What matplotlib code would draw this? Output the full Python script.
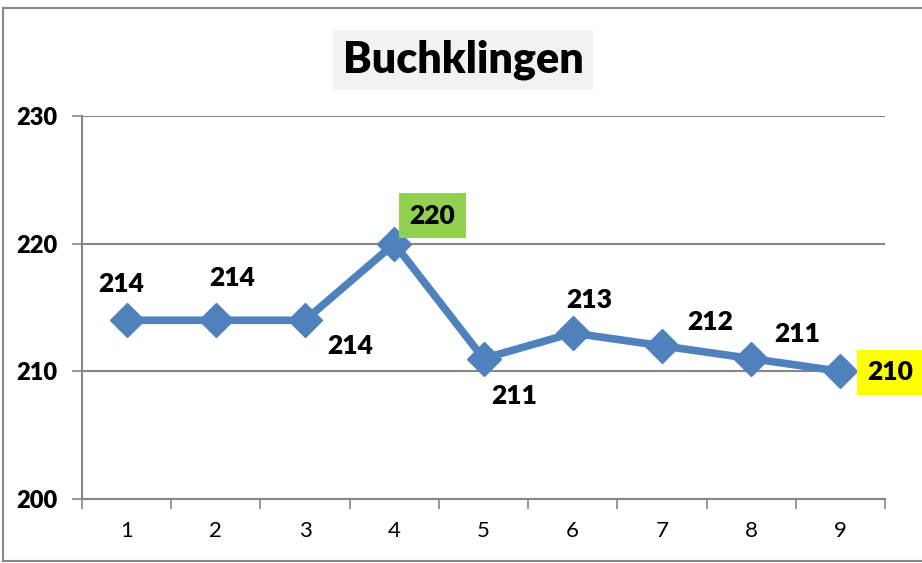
import matplotlib
matplotlib.use("Agg")
import matplotlib.pyplot as plt

# Data
categories = [1, 2, 3, 4, 5, 6, 7, 8, 9]
values = [214, 214, 214, 220, 211, 213, 212, 211, 210]
y_ticks = [200, 210, 220, 230]
title = "Buchklingen"

# label offsets (pixels) and box colours
label_offsets = [(-5, 36), (16, 42), (45, -26), (38, 28), (31, -37),
                 (17, 33), (48, 24), (46, 25), (50, -1)]
label_boxes = [None, None, None, "#92D050", None, None, None, None, "#FFFF00"]

FONT = ["Lato", "DejaVu Sans"]
plt.rcParams["font.family"] = FONT

W, H = 922, 563
fig = plt.figure(figsize=(W / 100, H / 100), dpi=100)
fig.patch.set_facecolor("white")

# plot area: x 82..885, y 116..499 (pixels from top)
left, right, top, bottom = 82, 885, 116, 499
ax = fig.add_axes([left / W, 1 - bottom / H, (right - left) / W, (bottom - top) / H])

line_color = "#4F81BD"
grid_color = "#868686"

ax.plot(categories, values, color=line_color, lw=5.5, marker="D",
        markersize=17, markeredgecolor=line_color, zorder=5, clip_on=False)

ax.set_xlim(0.5, 9.5)
ax.set_ylim(200, 230)
ax.set_yticks(y_ticks)
ax.set_yticklabels([str(v) for v in y_ticks], fontsize=17, fontweight="heavy")
ax.set_xticks(categories)
ax.set_xticklabels([str(c) for c in categories], fontsize=16)
ax.set_xticks([c + 0.5 for c in [0] + categories], minor=True)
ax.tick_params(axis="x", which="major", length=0, pad=16)
ax.tick_params(axis="x", which="minor", length=7, color=grid_color, width=1.2)
ax.tick_params(axis="y", length=7, color=grid_color, width=1.2, pad=11)

ax.yaxis.grid(True, color=grid_color, lw=1.5)
ax.set_axisbelow(True)
for s in ["top", "right"]:
    ax.spines[s].set_visible(False)
for s in ["left", "bottom"]:
    ax.spines[s].set_color(grid_color)
    ax.spines[s].set_linewidth(1.5)

for x, v, off, bc in zip(categories, values, label_offsets, label_boxes):
    kw = {}
    if bc:
        kw["bbox"] = dict(boxstyle="square,pad=0.4", fc=bc, ec="none")
    ax.annotate(str(v), (x, v), xytext=off, textcoords="offset pixels",
                ha="center", va="center", fontsize=19, fontweight="heavy",
                zorder=6, annotation_clip=False, **kw)

# title with grey box
fig.text(463 / W, 1 - 60 / H, title, ha="center", va="center", fontsize=31,
         fontweight="heavy",
         bbox=dict(boxstyle="square,pad=0.22", fc="#F2F2F2", ec="none"))

# outer frame
frame = dict(color="#888888", lw=1.5, transform=fig.transFigure)
fig.add_artist(plt.Line2D([3 / W, 3 / W], [1 - 8 / H, 1 - 561 / H], **frame))
fig.add_artist(plt.Line2D([3 / W, 1], [1 - 8 / H, 1 - 8 / H], **frame))
fig.add_artist(plt.Line2D([3 / W, 1], [1 - 561 / H, 1 - 561 / H], **frame))

fig.savefig("out.png", dpi=100)
